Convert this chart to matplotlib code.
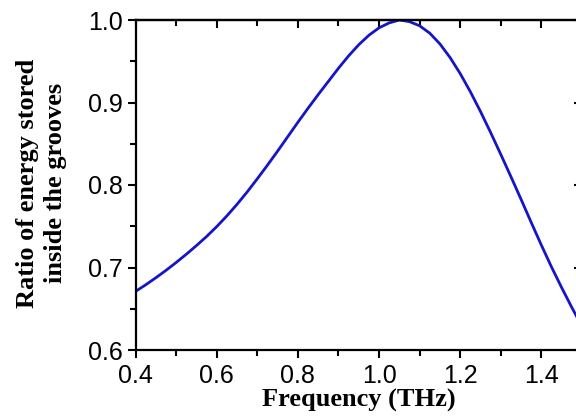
import matplotlib
matplotlib.use("Agg")
import matplotlib.pyplot as plt
from matplotlib.ticker import MultipleLocator

freq = [0.400, 0.425, 0.450, 0.475, 0.500, 0.525, 0.550, 0.575, 0.600, 0.625,
        0.650, 0.675, 0.700, 0.725, 0.750, 0.775, 0.800, 0.825, 0.850, 0.875,
        0.900, 0.925, 0.950, 0.975, 1.000, 1.025, 1.050, 1.075, 1.100, 1.125,
        1.150, 1.175, 1.200, 1.225, 1.250, 1.275, 1.300, 1.325, 1.350, 1.375,
        1.400, 1.425, 1.450, 1.475, 1.500]
ratio = [0.6710, 0.6790, 0.6875, 0.6965, 0.7060, 0.7160, 0.7265, 0.7375, 0.7495, 0.7625,
         0.7765, 0.7915, 0.8075, 0.8240, 0.8410, 0.8585, 0.8760, 0.8930, 0.9095, 0.9255,
         0.9415, 0.9565, 0.9700, 0.9815, 0.9905, 0.9965, 1.0000, 0.9980, 0.9930, 0.9840,
         0.9710, 0.9545, 0.9350, 0.9130, 0.8890, 0.8635, 0.8370, 0.8100, 0.7825, 0.7545,
         0.7270, 0.7005, 0.6755, 0.6515, 0.6285]

xticks = [0.4, 0.6, 0.8, 1.0, 1.2, 1.4]
yticks = [0.6, 0.7, 0.8, 0.9, 1.0]

fig = plt.figure(figsize=(5.76, 4.2), dpi=100)
ax = fig.add_axes([135.5/576, 70/420, (582-135.5)/576, 330/420])

ax.plot(freq, ratio, color="#1414c8", lw=2.0, solid_joinstyle="round")
ax.set_xlim(0.4, 1.5)
ax.set_ylim(0.6, 1.0)

ax.set_xticks(xticks)
ax.set_yticks(yticks)
ax.xaxis.set_minor_locator(MultipleLocator(0.1))
ax.yaxis.set_minor_locator(MultipleLocator(0.05))
ax.set_xticklabels([f"{v:.1f}" for v in xticks], family="Liberation Sans", fontsize=18)
ax.set_yticklabels([f"{v:.1f}" for v in yticks], family="Liberation Sans", fontsize=18)
ax.tick_params(which="major", direction="out", length=6, width=1.5, pad=3)
ax.tick_params(which="minor", direction="out", length=4, width=1.5)
ax.tick_params(axis="x", which="major", pad=4)

for s in ax.spines.values():
    s.set_linewidth(1.6)

# mirrored inward ticks on top and right
top = ax.secondary_xaxis("top")
top.set_xticks(xticks)
top.xaxis.set_minor_locator(MultipleLocator(0.1))
top.tick_params(which="major", direction="in", length=6, width=1.5, labeltop=False)
top.tick_params(which="minor", direction="in", length=4, width=1.5)
right = ax.secondary_yaxis("right")
right.set_yticks(yticks)
right.yaxis.set_minor_locator(MultipleLocator(0.05))
right.tick_params(which="major", direction="in", length=6, width=1.5, labelright=False)
right.tick_params(which="minor", direction="in", length=4, width=1.5)
top.spines["top"].set_linewidth(1.6)
right.spines["right"].set_linewidth(1.6)

ax.set_xlabel("Frequency (THz)", family="Liberation Serif", fontweight="bold",
              fontsize=19, labelpad=1)
fig.text(41.5/576, 1 - 183/420, "Ratio of energy stored\ninside the grooves",
         family="Liberation Serif", fontweight="bold", fontsize=19,
         rotation=90, ha="center", va="center", linespacing=1.3)

fig.savefig("out.png", dpi=100)
